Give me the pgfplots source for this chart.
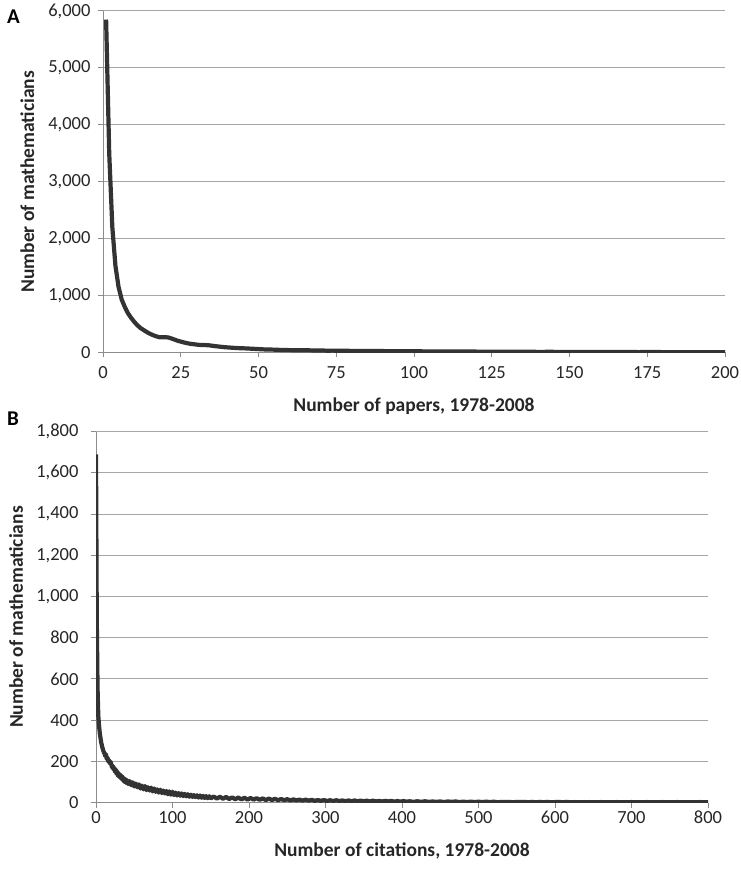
\documentclass[border=0pt]{standalone}
\usepackage{fontspec}
\setmainfont{Carlito}
\usepackage{pgfplots}
\pgfplotsset{compat=1.18}

\definecolor{gridgray}{HTML}{A6A6A6}
\definecolor{axisgray}{HTML}{8C8C8C}
\definecolor{curvegray}{HTML}{333333}

\pgfplotsset{
  excel/.style={
    scale only axis,
    axis x line=bottom, axis y line=left,
    axis line style={-, axisgray, line width=1pt},
    ymajorgrids, grid style={gridgray, line width=1pt},
    tick style={axisgray, line width=1pt},
    tick align=outside, major tick length=5pt,
    tick label style={font=\fontsize{18.5}{18.5}\selectfont, text=black!85},
    label style={font=\fontsize{19.5}{19.5}\selectfont\bfseries, text=black!85},
    /pgf/number format/.cd, assume math mode=true, 1000 sep={,},
  },
  datacurve/.style={curvegray, line width=4.2pt, line join=round, mark=none},
}

\pgfplotstableread{
x y
1 5850
2 3500
3 2200
4 1520
5 1150
6 930
7 800
8 690
9 610
10 540
11 480
12 430
13 395
14 360
15 330
16 305
17 285
18 268
19 265
20 268
21 262
22 245
23 225
24 205
25 190
26 175
27 162
28 152
29 145
30 138
31 132
32 130
33 128
34 125
35 118
36 110
37 104
38 98
39 92
40 88
42 80
44 74
46 70
48 64
50 58
52 52
54 50
56 46
58 42
60 40
62 38
64 36
66 37
68 33
70 34
72 30
74 31
76 28
78 29
80 26
83 27
86 23
89 24
92 21
95 22
98 19
101 20
104 17
107 18
110 15
113 16
116 14
119 15
122 12
125 13
128 11
131 12
134 10
137 11
140 9
144 10
148 8
152 9
156 7
160 8
164 6
168 7
172 5
176 6
180 5
185 5
190 4
195 4
200 3
}\papers

\pgfplotstableread{
x y
0 1690
1 900
2 560
3 420
4 372
5 335
6 310
7 288
8 272
9 258
10 246
11 240
12 226
13 234
14 212
15 218
16 200
17 206
18 190
19 198
20 185
21 170
22 178
23 160
24 168
25 148
26 160
27 138
28 150
29 128
30 140
31 122
32 135
33 115
34 128
35 108
36 120
37 100
38 114
39 96
40 110
42 90
44 104
46 84
48 98
50 78
52 92
54 74
56 88
58 68
60 82
62 64
64 80
66 60
68 74
70 58
72 72
74 54
76 68
78 52
80 64
82 48
84 62
86 46
88 58
90 44
92 56
94 40
96 54
98 38
100 52
102 36
104 48
106 34
108 46
110 33
112 44
114 31
116 42
118 30
120 40
122 28
124 38
126 27
128 36
130 26
132 35
134 24
136 34
138 23
140 32
142 22
144 31
146 21
148 30
150 20
154 29
158 19
162 28
166 18
170 27
174 17
178 25
182 16
186 24
190 15
194 23
198 14
202 22
206 14
210 21
214 13
218 20
222 12
226 19
230 12
234 18
238 11
242 17
246 11
250 16
254 10
258 15
262 10
266 14
270 9
274 14
278 9
282 13
286 8
290 12
294 8
298 12
302 7
306 11
310 7
314 11
318 7
322 10
326 6
330 10
334 6
338 10
342 6
346 9
350 6
354 9
358 5
362 9
366 5
370 8
374 5
378 8
382 5
386 8
390 4
394 7
398 4
402 7
406 4
410 6
415 3
420 6
425 3
430 6
435 3
440 5
445 3
450 5
455 2
460 5
465 3
470 5
475 2
480 4
485 2
490 4
495 2
500 4
505 2
510 4
515 2
520 4
525 1
530 3
535 2
540 3
545 1
550 3
555 2
560 3
565 1
570 3
575 1
580 3
585 1
590 3
595 1
600 2
605 3
610 1
615 3
620 1
625 2
630 1
635 2
640 1
645 2
650 1
660 2
670 1
680 2
690 1
700 2
710 1
720 2
730 1
740 2
750 1
760 2
770 1
780 1
790 2
800 1
}\citations

\begin{document}
\begin{tikzpicture}
\useasboundingbox (0pt,0pt) rectangle (740pt,872pt);

% panel A
\begin{axis}[excel,
  at={(103pt,519.6pt)}, anchor=south west,
  width=622pt, height=341.4pt,
  xmin=0, xmax=200, ymin=0, ymax=6000,
  xtick distance=25, ytick distance=1000,
  xticklabel style={yshift=-6pt},
  yticklabel style={xshift=-4pt},
  xlabel={Number of papers, 1978-2008},
  ylabel={Number of mathematicians},
  xlabel style={at={(axis description cs:0.5,0)}, anchor=base, yshift=-58.7pt},
  ylabel style={at={(axis description cs:-0.1109,0.5)}, rotate=0, anchor=base},
]
\addplot[datacurve] table[x=x, y=y] {\papers};
\end{axis}

% panel B
\begin{axis}[excel,
  at={(96pt,69.5pt)}, anchor=south west,
  width=612pt, height=370.8pt,
  xmin=0, xmax=800, ymin=0, ymax=1800,
  xtick distance=100, ytick distance=200,
  yticklabel style={xshift=-9pt},
  xlabel={Number of citations, 1978-2008},
  ylabel={Number of mathematicians},
  xlabel style={at={(axis description cs:0.5,0)}, anchor=base, yshift=-54.3pt},
  ylabel style={at={(axis description cs:-0.1193,0.5)}, rotate=0, anchor=base},
]
\addplot[datacurve] table[x=x, y=y] {\citations};
\end{axis}

\node[font=\fontsize{21}{21}\selectfont\bfseries, anchor=north west, inner sep=0pt] at (7pt,862pt) {A};
\node[font=\fontsize{21}{21}\selectfont\bfseries, anchor=north west, inner sep=0pt] at (7pt,460pt) {B};
\end{tikzpicture}
\end{document}
